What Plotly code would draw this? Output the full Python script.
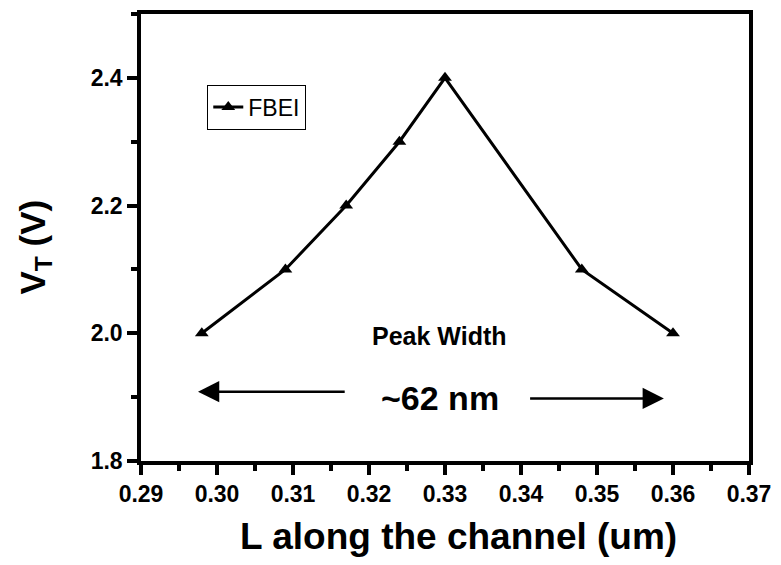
import plotly.graph_objects as go

L_um = [0.298, 0.309, 0.317, 0.324, 0.330, 0.348, 0.360]
VT = [2.0, 2.1, 2.2, 2.3, 2.4, 2.1, 2.0]
series_name = "FBEI"
x_ticks = [0.29, 0.30, 0.31, 0.32, 0.33, 0.34, 0.35, 0.36, 0.37]
y_ticks = [1.8, 2.0, 2.2, 2.4]
x_title = "L along the channel (um)"
y_title = "V<sub>T</sub> (V)"

FONT = "Liberation Sans"

fig = go.Figure()
fig.add_trace(go.Scatter(
    x=L_um, y=VT, mode="lines+markers", name=series_name,
    line=dict(color="black", width=3),
    marker=dict(symbol="triangle-up", size=12, color="black"),
))

axis_common = dict(
    showline=True, linecolor="black", linewidth=3.5, mirror=True,
    ticks="outside", ticklen=10, tickwidth=3.5, tickcolor="black",
    showgrid=False, zeroline=False,
    tickfont=dict(family=FONT, size=23, color="black", weight="bold"),
)

fig.update_xaxes(
    range=[0.29, 0.37], tickmode="array", tickvals=x_ticks,
    ticktext=["<b>%.2f</b>" % v for v in x_ticks],
    minor=dict(ticks="outside", ticklen=6, tickwidth=3.5, tickcolor="black", dtick=0.005, tick0=0.29),
    **axis_common,
)
fig.update_yaxes(
    range=[1.8, 2.5], tickmode="array", tickvals=y_ticks,
    ticktext=["<b>%.1f</b>" % v for v in y_ticks],
    minor=dict(ticks="outside", ticklen=6, tickwidth=3.5, tickcolor="black", dtick=0.1, tick0=1.8),
    **axis_common,
)

annotations = [
    dict(x=0.522, y=-0.168, xref="paper", yref="paper", text="<b>%s</b>" % x_title,
         showarrow=False, xanchor="center", yanchor="middle",
         font=dict(family=FONT, size=37, color="black")),
    dict(x=-0.175, y=0.479, xref="paper", yref="paper", text="<b>%s</b>" % y_title,
         showarrow=False, xanchor="center", yanchor="middle", textangle=-90,
         font=dict(family=FONT, size=35, color="black")),
    dict(x=0.3293, y=1.995, xref="x", yref="y", text="<b>Peak Width</b>", showarrow=False,
         font=dict(family=FONT, size=25, color="black")),
    dict(x=0.3293, y=1.899, xref="x", yref="y", text="<b>~62 nm</b>", showarrow=False,
         font=dict(family=FONT, size=34, color="black")),
    dict(x=0.2975, y=1.9085, ax=0.317, ay=1.9085, xref="x", yref="y", axref="x", ayref="y",
         text="", showarrow=True, arrowhead=2, arrowsize=1.7, arrowwidth=2.5, arrowcolor="black"),
    dict(x=0.3588, y=1.898, ax=0.341, ay=1.898, xref="x", yref="y", axref="x", ayref="y",
         text="", showarrow=True, arrowhead=2, arrowsize=1.7, arrowwidth=2.5, arrowcolor="black"),
]

fig.update_layout(
    width=781, height=565,
    margin=dict(l=141, r=27, t=10, b=104),
    plot_bgcolor="white", paper_bgcolor="white",
    showlegend=True,
    legend=dict(x=0.109, y=0.842, xanchor="left", yanchor="top",
                bordercolor="black", borderwidth=1, bgcolor="white",
                font=dict(family=FONT, size=23, color="black"),
                itemwidth=30, tracegroupgap=0),
    annotations=annotations,
)

fig.write_html("out.html")
